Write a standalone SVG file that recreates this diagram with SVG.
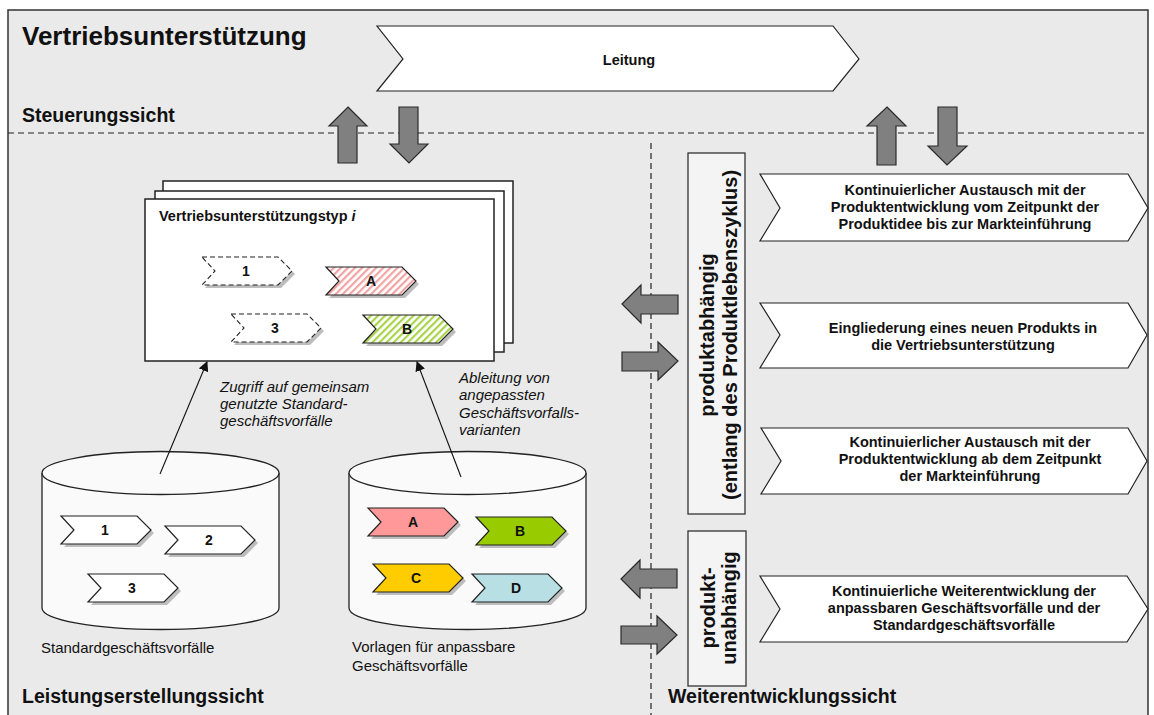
<svg xmlns="http://www.w3.org/2000/svg" width="1154" height="715" viewBox="0 0 1154 715">
<defs>
<style>
text{font-family:"Liberation Sans",Arial,sans-serif;fill:#111}
.b{font-weight:bold}
.sec{font-size:19.5px;font-weight:bold}
.ct{font-size:14.5px;font-weight:bold;text-anchor:middle}
.lab{font-size:14px;font-weight:bold;text-anchor:middle}
.reg{font-size:15px}
.it{font-size:15px;font-style:italic}
.vt{font-size:20px;font-weight:bold;text-anchor:middle}
.blk{fill:#808080;stroke:#2a2a2a;stroke-width:1.2}
.chev{stroke:#222;stroke-width:1.2}
.shadow{fill:#bdbdbd}
.dash{fill:#fff;stroke:#222;stroke-width:1.1;stroke-dasharray:5,3}
.page{fill:#fff;stroke:#222;stroke-width:1.5}
.cyl{fill:#fafafa;stroke:#222;stroke-width:1.3}
.big{fill:#fff;stroke:#222;stroke-width:1.2}
.vbox{fill:#f4f4f4;stroke:#333;stroke-width:1.3}
.sep{stroke:#222;stroke-width:1.2;stroke-dasharray:6,4;fill:none}
.con{stroke:#111;stroke-width:1.1;fill:none;marker-end:url(#ah)}
</style>
<path id="chev" d="M0,0 H76 L90,14 L76,28 H0 L13,14 Z"/>
<marker id="ah" markerWidth="10" markerHeight="10" refX="9" refY="5" orient="auto" markerUnits="userSpaceOnUse">
<path d="M0,0 L10,5 L0,10 Z" fill="#111"/>
</marker>
<pattern id="hatchA" width="5" height="5" patternUnits="userSpaceOnUse" patternTransform="rotate(45)">
<rect width="5" height="5" fill="#fff"/>
<rect width="2.2" height="5" fill="#f2a3a3"/>
</pattern>
<pattern id="hatchB" width="5" height="5" patternUnits="userSpaceOnUse" patternTransform="rotate(45)">
<rect width="5" height="5" fill="#fff"/>
<rect width="2.2" height="5" fill="#a9d34a"/>
</pattern>
</defs>

<rect x="0" y="0" width="1154" height="715" fill="#fff"/>
<rect x="8" y="10" width="1140" height="712" fill="#eaeaea" stroke="#333" stroke-width="1.5"/>

<g id="separators">
<line class="sep" x1="8" y1="133" x2="1148" y2="133"/>
<line class="sep" x1="651" y1="143" x2="651" y2="715"/>
</g>

<g id="titles">
<text x="22" y="45" class="b" font-size="26">Vertriebsunterstützung</text>
<text x="22" y="122" class="sec">Steuerungssicht</text>
<text x="22" y="703" class="sec">Leistungserstellungssicht</text>
<text x="668" y="703" class="sec">Weiterentwicklungssicht</text>
</g>

<g id="leitung">
<polygon class="big" points="377,26 833,26 859,59 833,91 377,91 403,59"/>
<text x="629" y="65" class="ct">Leitung</text>
</g>

<g id="block-arrows">
<polygon class="blk" points="348,107 367,126 357,126 357,163 338,163 338,126 329,126"/>
<polygon class="blk" points="399,107 418,107 418,144 428,144 409,163 390,144 399,144"/>
<polygon class="blk" points="887,107 906,126 896,126 896,165 877,165 877,126 867,126"/>
<polygon class="blk" points="938,107 957,107 957,146 967,146 947,165 928,146 938,146"/>
<polygon class="blk" points="622,304 641,285 641,295 678,295 678,314 641,314 641,323"/>
<polygon class="blk" points="622,352 658,352 658,342 678,361 658,380 658,371 622,371"/>
<polygon class="blk" points="621,579 640,560 640,569 677,569 677,588 640,588 640,598"/>
<polygon class="blk" points="621,626 657,626 657,616 677,635 657,654 657,644 621,644"/>
</g>

<g id="typ-pages">
<rect class="page" x="163" y="181" width="350" height="162"/>
<rect class="page" x="155" y="191" width="349" height="161"/>
<rect class="page" x="145" y="199" width="349" height="162"/>
<text x="159" y="221" class="b" font-size="14.5">Vertriebsunterstützungstyp <tspan font-style="italic">i</tspan></text>
<use href="#chev" x="205" y="260" class="shadow"/>
<use href="#chev" x="202" y="257" class="dash"/>
<text x="246" y="276" class="lab">1</text>
<use href="#chev" x="329" y="270" class="shadow"/>
<use href="#chev" x="326" y="267" class="chev" fill="url(#hatchA)"/>
<text x="371" y="286" class="lab">A</text>
<use href="#chev" x="234" y="317" class="shadow"/>
<use href="#chev" x="231" y="314" class="dash"/>
<text x="275" y="333" class="lab">3</text>
<use href="#chev" x="366" y="318" class="shadow"/>
<use href="#chev" x="363" y="315" class="chev" fill="url(#hatchB)"/>
<text x="407" y="334" class="lab">B</text>
</g>

<g id="cyl-standard">
<path class="cyl" d="M42,473 V608 A118.5,21.5 0 0 0 279,608 V473"/>
<ellipse class="cyl" cx="160.5" cy="473" rx="118.5" ry="21.5"/>
<use href="#chev" x="64" y="519" class="shadow"/>
<use href="#chev" x="61" y="516" class="chev" fill="#fff"/>
<text x="105" y="535" class="lab">1</text>
<use href="#chev" x="168" y="529" class="shadow"/>
<use href="#chev" x="165" y="526" class="chev" fill="#fff"/>
<text x="209" y="545" class="lab">2</text>
<use href="#chev" x="91" y="577" class="shadow"/>
<use href="#chev" x="88" y="574" class="chev" fill="#fff"/>
<text x="132" y="593" class="lab">3</text>
<text x="41" y="653" class="reg">Standardgeschäftsvorfälle</text>
</g>

<g id="cyl-vorlagen">
<path class="cyl" d="M349,473 V608 A118.5,21.5 0 0 0 586,608 V473"/>
<ellipse class="cyl" cx="467.5" cy="473" rx="118.5" ry="21.5"/>
<use href="#chev" x="371" y="511" class="shadow"/>
<use href="#chev" x="368" y="508" class="chev" fill="#ff9999"/>
<text x="413" y="527" class="lab">A</text>
<use href="#chev" x="479" y="520" class="shadow"/>
<use href="#chev" x="476" y="517" class="chev" fill="#99cc00"/>
<text x="520" y="536" class="lab">B</text>
<use href="#chev" x="376" y="567" class="shadow"/>
<use href="#chev" x="373" y="564" class="chev" fill="#ffcc00"/>
<text x="416" y="583" class="lab">C</text>
<use href="#chev" x="475" y="577" class="shadow"/>
<use href="#chev" x="472" y="574" class="chev" fill="#b7dfe4"/>
<text x="516" y="593" class="lab">D</text>
<text x="352" y="652" class="reg">Vorlagen für anpassbare</text>
<text x="352" y="671" class="reg">Geschäftsvorfälle</text>
</g>

<g id="connectors">
<line class="con" x1="160" y1="474" x2="207" y2="362"/>
<line class="con" x1="461" y1="477" x2="417" y2="362"/>
<text class="it"><tspan x="220" y="392">Zugriff auf gemeinsam</tspan><tspan x="220" y="409">genutzte Standard-</tspan><tspan x="220" y="426">geschäftsvorfälle</tspan></text>
<text class="it"><tspan x="459" y="383">Ableitung von</tspan><tspan x="459" y="400">angepassten</tspan><tspan x="459" y="418">Geschäftsvorfalls-</tspan><tspan x="459" y="435">varianten</tspan></text>
</g>

<g id="box-produktabhaengig">
<rect class="vbox" x="688" y="153" width="57" height="361"/>
<text class="vt" transform="translate(714,335) rotate(-90)">produktabhängig</text>
<text class="vt" transform="translate(737,335) rotate(-90)">(entlang des Produktlebenszyklus)</text>
</g>

<g id="box-produktunabhaengig">
<rect class="vbox" x="688" y="531" width="58" height="155"/>
<text class="vt" transform="translate(715,608) rotate(-90)">produkt-</text>
<text class="vt" transform="translate(736,608) rotate(-90)">unabhängig</text>
</g>

<g id="task-1">
<polygon class="big" points="760,174 1128,174 1148,208 1128,241 760,241 780,208"/>
<text class="ct"><tspan x="965" y="195">Kontinuierlicher Austausch mit der</tspan><tspan x="965" y="212">Produktentwicklung vom Zeitpunkt der</tspan><tspan x="965" y="229">Produktidee bis zur Markteinführung</tspan></text>
</g>
<g id="task-2">
<polygon class="big" points="760,303 1128,303 1147,335 1128,368 760,368 780,335"/>
<text class="ct"><tspan x="963" y="333">Eingliederung eines neuen Produkts in</tspan><tspan x="963" y="350">die Vertriebsunterstützung</tspan></text>
</g>
<g id="task-3">
<polygon class="big" points="761,428 1128,428 1147,461 1128,494 761,494 781,461"/>
<text class="ct"><tspan x="970" y="447">Kontinuierlicher Austausch mit der</tspan><tspan x="970" y="464">Produktentwicklung ab dem Zeitpunkt</tspan><tspan x="970" y="481">der Markteinführung</tspan></text>
</g>
<g id="task-4">
<polygon class="big" points="760,576 1127,576 1148,609 1127,642 760,642 780,609"/>
<text class="ct"><tspan x="964" y="596">Kontinuierliche Weiterentwicklung der</tspan><tspan x="964" y="613">anpassbaren Geschäftsvorfälle und der</tspan><tspan x="964" y="630">Standardgeschäftsvorfälle</tspan></text>
</g>
</svg>
